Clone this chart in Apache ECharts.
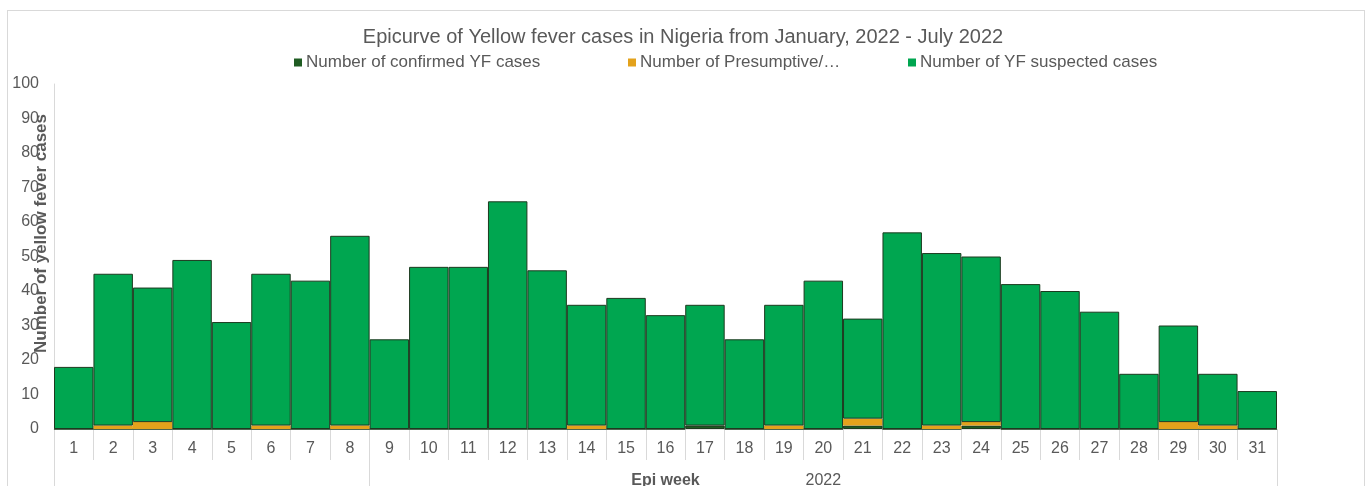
<!DOCTYPE html>
<html>
<head>
<meta charset="utf-8">
<script src="https://cdn.jsdelivr.net/npm/echarts@6/dist/echarts.min.js"></script>
<style>
html,body{margin:0;padding:0;background:#fff;}
#chart{position:absolute;left:0;top:0;width:1366px;height:486px;}
#frame{position:absolute;left:7px;top:10px;width:1356px;height:490px;border:1px solid #d9d9d9;pointer-events:none;}
</style>
</head>
<body>
<div id="chart"></div>
<div id="frame"></div>
<script>
const weeks = ['1','2','3','4','5','6','7','8','9','10','11','12','13','14','15','16','17','18','19','20','21','22','23','24','25','26','27','28','29','30','31'];
const confirmed = [0,0,0,0,0,0,0,0,0,0,0,0,0,0,0,0,1,0,0,0,1,0,0,1,0,0,0,0,0,0,0];
const presumptive = [0,1,2,0,0,1,0,1,0,0,0,0,0,1,0,0,0,0,1,0,2,0,1,1,0,0,0,0,2,1,0];
const suspected = [18,44,39,49,31,44,43,55,26,47,47,66,46,35,38,33,35,26,35,43,29,57,50,48,42,40,34,16,28,15,11];
const seriesNames = ['Number of confirmed YF cases','Number of Presumptive/…','Number of YF suspected cases'];
const yearGroupLabel = '2022';
const yearGroupStartIndex = 8;   // week 9 starts the "2022" group
const yearGroupLabelIndex = 19;  // centre of weeks 9–31

const textColor = '#595959';
const font = 'Liberation Sans, Arial, sans-serif';
const chart = echarts.init(document.getElementById('chart'));

const barBorder = {borderColor:'#1c3a1f', borderWidth:1};
const legendBase = {top:49, itemWidth:8, itemHeight:8, icon:'rect', itemGap:0,
  textStyle:{color:textColor, fontSize:17, fontFamily:font, padding:[0,0,0,-1]},
  itemStyle:{borderWidth:0}};

chart.setOption({
  animation:false,
  title:{text:'Epicurve of Yellow fever cases in Nigeria from January, 2022 - July 2022',
    left:'center', top:22, textStyle:{color:textColor, fontSize:20, fontWeight:'normal', fontFamily:font}},
  legend:[
    Object.assign({left:289, data:[seriesNames[0]]}, legendBase),
    Object.assign({left:623, data:[seriesNames[1]]}, legendBase),
    Object.assign({left:903, data:[seriesNames[2]]}, legendBase)
  ],
  grid:{left:54, right:89, top:84, bottom:57, containLabel:false, outerBoundsMode:'none'},
  xAxis:[{
    type:'category', data:weeks, position:'bottom',
    axisLine:{show:true, lineStyle:{color:'#e3e3e3', width:1}},
    axisTick:{show:true, length:31, lineStyle:{color:'#d9d9d9'}},
    axisLabel:{color:textColor, fontSize:16, fontFamily:font, margin:12, interval:0},
    name:'Epi week', nameLocation:'middle', nameGap:44, nameMoveOverlap:false,
    nameTextStyle:{color:textColor, fontSize:16, fontWeight:'bold', fontFamily:font}
  },{
    type:'category', data:weeks, position:'bottom', offset:31,
    axisLine:{show:false},
    axisTick:{show:true, length:30, lineStyle:{color:'#d9d9d9'},
      interval:function(i){return i===0 || i===yearGroupStartIndex;}},
    axisLabel:{show:true, color:textColor, fontSize:16, fontFamily:font, margin:13,
      interval:function(i){return i===yearGroupLabelIndex;},
      formatter:function(v,i){return i===yearGroupLabelIndex ? yearGroupLabel : '';}}
  }],
  yAxis:{
    type:'value', min:0, max:100, interval:10,
    axisLine:{show:true, lineStyle:{color:'#d9d9d9'}},
    axisTick:{show:false},
    splitLine:{show:false},
    axisLabel:{color:textColor, fontSize:16, fontFamily:font, margin:15},
    name:'Number of yellow fever cases', nameLocation:'middle', nameGap:4, nameRotate:90,
    nameMoveOverlap:false,
    nameTextStyle:{color:textColor, fontSize:17, fontWeight:'bold', fontFamily:font, padding:[0,0,0,46]}
  },
  series:[
    {name:seriesNames[0], type:'bar', stack:'t', data:confirmed, barCategoryGap:'0%',
      itemStyle:Object.assign({color:'#1f5c22'}, barBorder)},
    {name:seriesNames[1], type:'bar', stack:'t', data:presumptive, barCategoryGap:'0%',
      itemStyle:{color:'#e3a21c', borderWidth:0}},
    {name:seriesNames[2], type:'bar', stack:'t', data:suspected, barCategoryGap:'0%',
      itemStyle:Object.assign({color:'#00a650'}, barBorder)}
  ]
});
</script>
</body>
</html>
